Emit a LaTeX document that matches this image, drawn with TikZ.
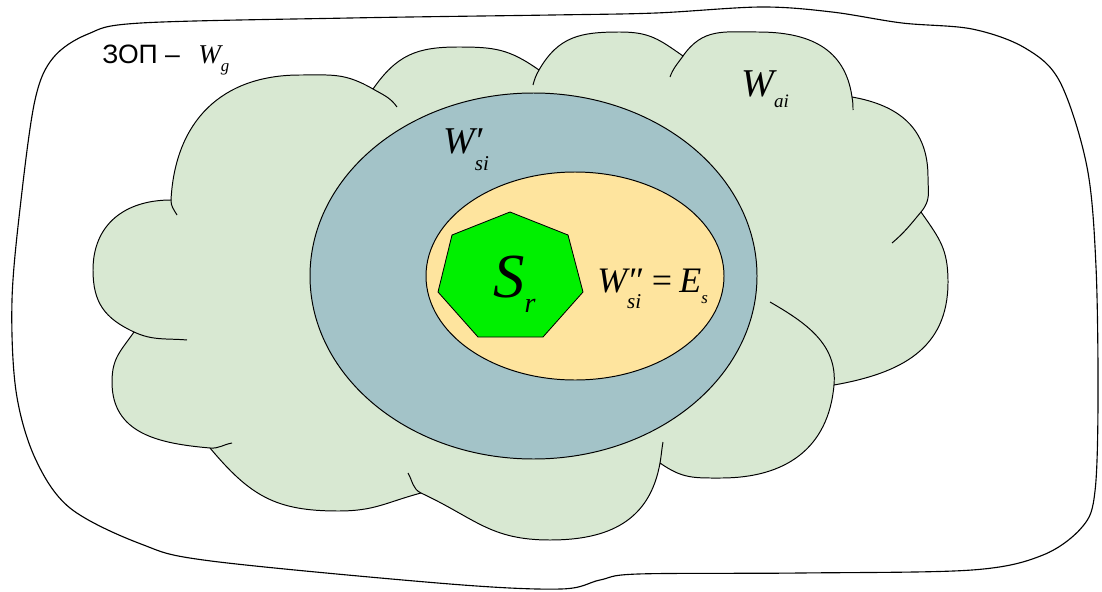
\documentclass[tikz,border=0pt]{standalone}
\usepackage{fontspec}
\setmainfont{Liberation Serif}
\newfontfamily\zopfont{Liberation Sans}
\definecolor{cloudgreen}{RGB}{216,232,210}
\definecolor{zoneblue}{RGB}{163,195,200}
\definecolor{zoneyellow}{RGB}{254,228,158}
\definecolor{srcgreen}{RGB}{0,240,0}
% lowered italic subscript: depth, size, text
\newcommand{\lsub}[3]{\raisebox{-#1}{\fontsize{#2}{#2}\selectfont\itshape #3}}

\begin{document}
\begin{tikzpicture}[x=0.025cm, y=-0.025cm, line join=round,
  cloud/.style={fill=cloudgreen,draw=black,line width=0.7pt,looseness=1.12},
  hooks/.style={draw=black,line width=0.7pt},
  zone/.style={draw=black,line width=0.7pt},
  lbl/.style={anchor=base west,inner sep=0pt}]
\useasboundingbox (0,0) rectangle (1102,591);
% outer region
\draw[line width=0.8pt] plot[smooth cycle, tension=0.55] coordinates {(12,300) (21,200) (35,100) (53,58) (88,34) (141,23) (350,18) (552,15) (656,13) (761,7) (832,12) (902,23) (972,29) (1025,48) (1060,82) (1087,167) (1096,267) (1098,400) (1095,491) (1083,526) (1043,555) (972,570) (800,573) (638,574) (600,580) (561,589) (450,584) (211,561) (141,544) (70,508) (35,458) (16,391)};
% cloud W_ai (angles on the page, y grows downwards in the coordinates)
\filldraw[cloud] (171,200) to[out=87,in=180] (300,75) to[out=0,in=-210] (373,89)
  to[out=55,in=180] (458,47) to[out=0,in=-215] (539,70)
  to[out=60,in=180] (620,32) to[out=0,in=-215] (683,56)
  to[out=55,in=180] (758,32) to[out=0,in=-262] (852,97)
  to[out=-10,in=-270] (928,177) to[out=-90,in=50] (921,212)
  to[out=-55,in=-270] (948,282) to[out=-90,in=10] (834,385)
  to[out=-95,in=0] (721,478) to[out=180,in=-35] (660,463)
  to[out=-100,in=0] (550,540) to[out=180,in=-25] (421,493)
  to[out=-165,in=0] (338,511) to[out=180,in=-50] (210,448)
  to[out=-185,in=-90] (112,382) to[out=-270,in=-125] (134,332)
  to[out=-205,in=-90] (93,270) to[out=-270,in=180] (171,200) -- cycle;
% inner ends of the bumps
\draw[hooks] (171,200) to[out=-92,in=-240] (177,215);
\draw[hooks] (373,89) to[out=-30,in=-235] (397,107);
\draw[hooks] (539,70) to[out=-120,in=75] (533,85);
\draw[hooks] (683,56) to[out=-125,in=70] (670,77);
\draw[hooks] (852,97) to[out=-80,in=90] (853,110);
\draw[hooks] (921,212) to[out=-130,in=40] (892,243);
\draw[hooks] (834,385) to[out=85,in=-30] (770,302);
\draw[hooks] (660,463) to[out=80,in=-100] (663,442);
\draw[hooks] (421,493) to[out=-205,in=-60] (408,473);
\draw[hooks] (210,448) to[out=-5,in=-170] (232,443);
\draw[hooks] (134,332) to[out=-25,in=-185] (187,340);
% zones W'_si and W''_si
\filldraw[zone,fill=zoneblue] (533.5,276) ellipse [x radius=223.5, y radius=183];
\filldraw[zone,fill=zoneyellow] (575,276) ellipse [x radius=149, y radius=104];
% source S_r
\filldraw[zone,fill=srcgreen,line width=0.6pt] (510,212) -- (568,235) -- (583,292) -- (543,337) -- (478,337) -- (438,292) -- (452,235) -- cycle;
% labels
\node[lbl,font=\fontsize{18.9}{20}\selectfont] (zop) at (102,63) {\zopfont ЗОП –};
\node[lbl,font=\fontsize{19.3}{20}\selectfont\itshape] (wg) at (198,63) {W\lsub{6.2pt}{12}{g}};
\node[lbl,font=\fontsize{28}{30}\selectfont\itshape] (wai) at (741,97) {W\lsub{7.5pt}{13.5}{ai}};
\node[lbl,font=\fontsize{26.9}{28}\selectfont\itshape] (wsi1) at (443,153) {W\rlap{′}\lsub{12.5pt}{15}{si}};
\node[lbl,font=\fontsize{44.6}{46}\selectfont\itshape] (sr) at (493,297) {S\lsub{10.7pt}{20}{r}};
\node[lbl,font=\fontsize{25.5}{27}\selectfont\itshape] (wsi2) at (597,292) {W\rlap{″}\lsub{12pt}{15}{si}\hspace{6pt}=\hspace{4pt}E\lsub{8.5pt}{12}{s}};
\end{tikzpicture}
\end{document}
